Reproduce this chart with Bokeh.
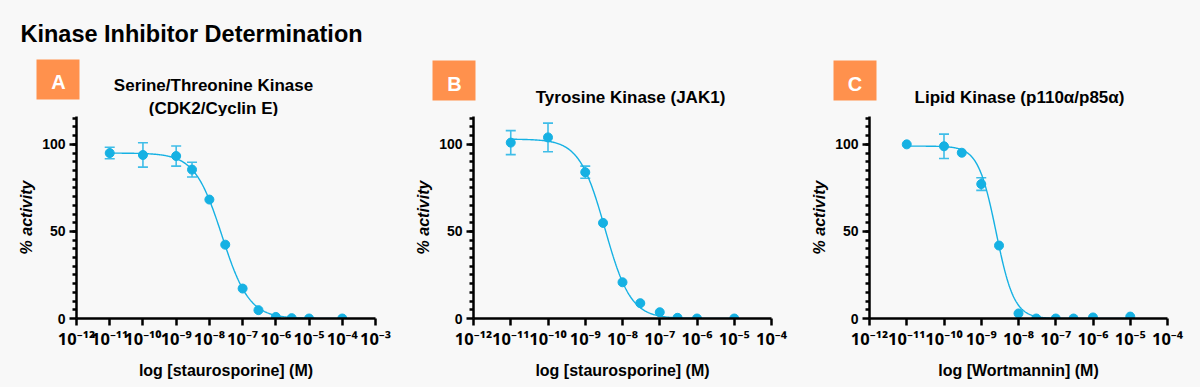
import numpy as np
from bokeh.plotting import figure
from bokeh.models import Range1d, FixedTicker, Whisker, ColumnDataSource, TeeHead
from bokeh.core.properties import value
from bokeh.layouts import row, column
from bokeh.embed import file_html
from bokeh.resources import INLINE

# ---------------- data ----------------
main_title = "Kinase Inhibitor Determination"

a_conc = [1e-11, 1e-10, 1e-9, 3e-9, 1e-8, 3e-8, 1e-7, 3e-7, 1e-6, 3e-6, 1e-5, 1e-4]
a_act = [95.0, 93.9, 93.3, 85.5, 68.3, 42.4, 17.2, 4.8, 0.9, 0.2, 0.0, 0.0]
a_err = [3.3, 7.0, 5.8, 4.2, 0, 0, 0, 0, 0, 0, 0, 0]
a_fit = [95.0, 0.0, -7.62, 1.06]  # top, bottom, logIC50, hill

b_conc = [1e-11, 1e-10, 1e-9, 3e-9, 1e-8, 3e-8, 1e-7, 3e-7, 1e-6, 1e-5]
b_act = [101.0, 104.0, 84.0, 54.9, 20.8, 8.8, 3.6, 0.4, 0.0, 0.0]
b_err = [6.9, 8.2, 3.5, 0, 0, 0, 0, 0, 0, 0]
b_fit = [103.0, 0.0, -8.47, 1.26]

c_conc = [1e-11, 1e-10, 3e-10, 1e-9, 3e-9, 1e-8, 3e-8, 1e-7, 3e-7, 1e-6, 1e-5]
c_act = [100.0, 98.9, 95.2, 77.2, 41.9, 2.9, 0.0, 0.0, 0.0, 0.6, 1.1]
c_err = [0, 7.0, 0, 3.6, 0, 0, 0, 0, 0, 0, 0]
c_fit = [99.0, 0.0, -8.6, 1.8]

panel_letters = ["A", "B", "C"]
panel_titles = ["Serine/Threonine Kinase", "(CDK2/Cyclin E)",
                "Tyrosine Kinase (JAK1)", "Lipid Kinase (p110\u03b1/p85\u03b1)"]
x_labels = ["log [staurosporine] (M)", "log [staurosporine] (M)", "log [Wortmannin] (M)"]
x_decades = [list(range(-12, -2)), list(range(-12, -3)), list(range(-12, -3))]
y_major = [0, 50, 100]
y_top = 116

# ---------------- styles / layout ----------------
BG = "#f8f8f8"
CYAN = "#16b1e3"
CYAN_ERR = "#3fbde8"
ORANGE = "#ff914d"
FONT = "Liberation Sans"
SUPFONT = "Noto Sans"
SUP = str.maketrans("-0123456789", "\u207b\u2070\u00b9\u00b2\u00b3\u2074\u2075\u2076\u2077\u2078\u2079")

HEAD_H = 116
PLOT_H = 387 - HEAD_H

# header positions (page pixels, y downward)
badge_boxes = [(36, 79, 59, 99), (432, 475, 60, 100), (833, 876, 60, 100)]
letter_xy = [(58, 81.7), (454, 83.3), (854.5, 83.3)]
title_xy = [(213, 85.3), (213, 107.5), (630, 96.5), (1019, 96.5)]


def four_pl(logx, p):
    top, bottom, logic50, hill = p
    return bottom + (top - bottom) / (1.0 + 10 ** ((logx - logic50) * hill))


def make_header():
    h = figure(width=1200, height=HEAD_H, output_backend="svg", toolbar_location=None,
               x_range=Range1d(0, 1200), y_range=Range1d(HEAD_H, 0),
               x_axis_location=None, y_axis_location=None,
               min_border=0, min_border_left=0, min_border_right=0,
               min_border_top=0, min_border_bottom=0)
    h.background_fill_color = BG
    h.border_fill_color = BG
    h.outline_line_color = None
    h.grid.visible = False
    h.text(x=[20], y=[33], text=[main_title], text_font=value(FONT),
           text_font_style="bold", text_font_size="23.5px", text_color="black",
           text_align="left", text_baseline="alphabetic")
    h.quad(left=[b[0] for b in badge_boxes], right=[b[1] for b in badge_boxes],
           top=[b[2] for b in badge_boxes], bottom=[b[3] for b in badge_boxes],
           fill_color=ORANGE, line_color=None)
    h.text(x=[p[0] for p in letter_xy], y=[p[1] for p in letter_xy], text=panel_letters,
           text_font=value(FONT), text_font_style="bold", text_font_size="20px",
           text_color="white", text_align="center", text_baseline="alphabetic")
    h.text(x=[p[0] for p in title_xy], y=[p[1] for p in title_xy], text=panel_titles,
           text_font=value(FONT), text_font_style="bold", text_font_size="17px",
           text_color="black", text_align="center", text_baseline="alphabetic")
    return h


def make_panel(conc, act, err, fit, decades, xlabel, left, right):
    p = figure(width=400, height=PLOT_H, output_backend="svg", toolbar_location=None,
               x_range=Range1d(decades[0], decades[-1]), y_range=Range1d(0, y_top),
               min_border_left=left, min_border_right=right,
               min_border_top=0, min_border_bottom=69)
    p.background_fill_color = BG
    p.border_fill_color = BG
    p.outline_line_color = None
    p.grid.visible = False

    lx = np.log10(np.array(conc))
    ya = np.array(act)
    ea = np.array(err)

    xs = np.linspace(lx.min(), lx.max(), 300)
    p.line(xs, four_pl(xs, fit), line_color=CYAN, line_width=1.4)

    m = ea > 0
    esrc = ColumnDataSource(dict(x=lx[m], upper=(ya + ea)[m], lower=(ya - ea)[m]))
    w = Whisker(source=esrc, base="x", upper="upper", lower="lower",
                line_color=CYAN_ERR, line_width=1.6, level="underlay",
                upper_head=TeeHead(size=10, line_color=CYAN_ERR, line_width=1.6),
                lower_head=TeeHead(size=10, line_color=CYAN_ERR, line_width=1.6))
    p.add_layout(w)

    p.scatter(lx, ya, size=9, fill_color=CYAN, line_color=CYAN)

    p.xaxis.ticker = FixedTicker(ticks=decades, minor_ticks=[])
    p.xaxis.major_label_overrides = {d: "10" + str(d).translate(SUP) for d in decades}
    p.yaxis.ticker = FixedTicker(ticks=y_major, minor_ticks=list(range(5, y_top, 5)))
    for ax in (p.xaxis[0], p.yaxis[0]):
        ax.axis_line_width = 2.5
        ax.axis_line_color = "black"
        ax.major_tick_line_width = 2.5
        ax.minor_tick_line_width = 2.5
        ax.major_tick_in = 0
        ax.minor_tick_in = 0
        ax.major_label_text_font = FONT
        ax.major_label_text_font_style = "bold"
        ax.major_label_text_color = "black"
        ax.axis_label_text_font = FONT
        ax.axis_label_text_color = "black"
    p.xaxis.major_tick_out = 7
    p.xaxis.major_label_text_font = SUPFONT
    p.xaxis.major_label_text_font_size = "16.5px"
    p.xaxis.major_label_standoff = 1
    p.xaxis.axis_label = xlabel
    p.xaxis.axis_label_text_font_size = "16px"
    p.xaxis.axis_label_text_font_style = "bold"
    p.xaxis.axis_label_standoff = 9
    p.yaxis.major_tick_out = 7
    p.yaxis.minor_tick_out = 4
    p.yaxis.major_label_text_font_size = "14px"
    p.yaxis.major_label_standoff = 4
    p.yaxis.axis_label = "% activity"
    p.yaxis.axis_label_text_font_size = "16px"
    p.yaxis.axis_label_text_font_style = "bold italic"
    p.yaxis.axis_label_standoff = 4
    return p


header = make_header()
pA = make_panel(a_conc, a_act, a_err, a_fit, x_decades[0], x_labels[0], 76, 25)
pB = make_panel(b_conc, b_act, b_err, b_fit, x_decades[1], x_labels[1], 73, 29)
pC = make_panel(c_conc, c_act, c_err, c_fit, x_decades[2], x_labels[2], 69, 33)

plots = row(pA, pB, pC, spacing=0, styles={"background-color": BG})
layout = column(header, plots, spacing=0, styles={"background-color": BG})
open("out.html", "w").write(file_html(layout, INLINE))
